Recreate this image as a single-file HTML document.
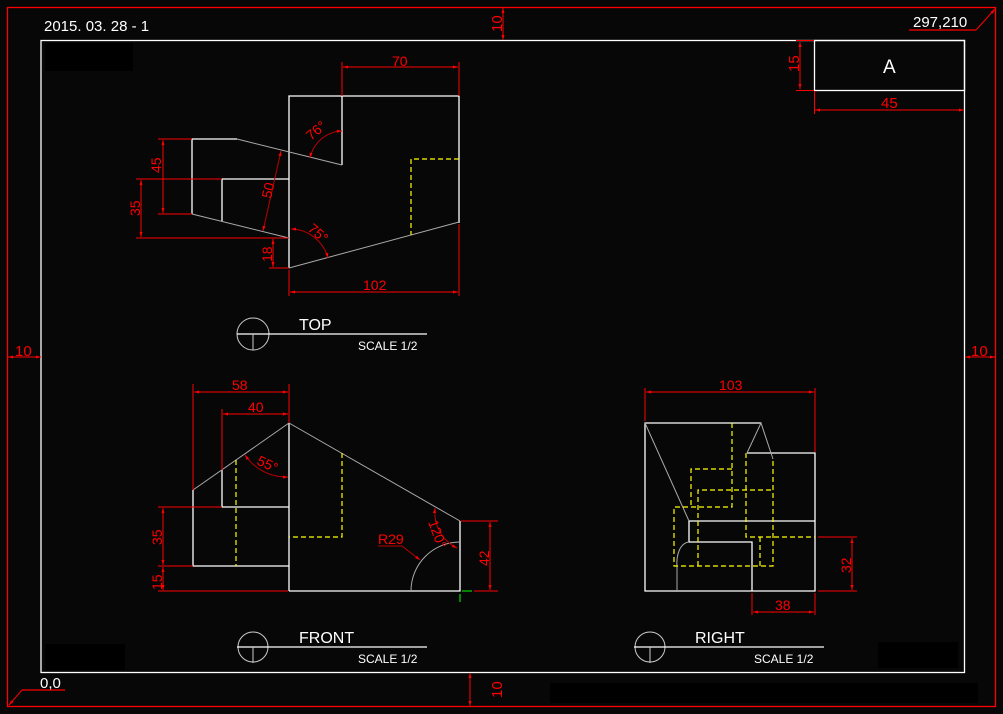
<!DOCTYPE html>
<html><head><meta charset="utf-8"><style>
html,body{margin:0;padding:0;background:#070707;}
svg{display:block;}
text{font-family:"Liberation Sans",sans-serif;}
</style></head><body>
<svg width="1003" height="714" viewBox="0 0 1003 714" xmlns="http://www.w3.org/2000/svg">
<defs>
<marker id="a" viewBox="0 0 10 10" refX="10" refY="5" markerWidth="7" markerHeight="5" orient="auto-start-reverse"><path d="M0,2 L10,5 L0,8 z" fill="#f00"/></marker>
</defs>
<rect width="1003" height="714" fill="#070707"/>
<rect x="45" y="43" width="88" height="28" fill="#000"/>
<rect x="45" y="644" width="80" height="26" fill="#000"/>
<rect x="878" y="642" width="80" height="26" fill="#000"/>
<rect x="550" y="683" width="428" height="20" fill="#000"/>
<rect x="7.5" y="7.5" width="988" height="699" fill="none" stroke="#f00" stroke-width="1.3"/>
<rect x="41" y="40.5" width="923.5" height="632" fill="none" stroke="#fff" stroke-width="1.3"/>
<text x="44" y="31" fill="#fff" font-size="15">2015. 03. 28 - 1</text>
<text x="913" y="27" fill="#fff" font-size="15">297,210</text>
<line x1="909" y1="30" x2="976" y2="30" stroke="#f00" stroke-width="1.3"/>
<line x1="976" y1="30" x2="995" y2="9" stroke="#f00" marker-end="url(#a)"/>
<text x="40" y="688" fill="#fff" font-size="15">0,0</text>
<line x1="22" y1="690" x2="65" y2="690" stroke="#f00" stroke-width="1.3"/>
<line x1="22" y1="690" x2="9" y2="705" stroke="#f00" marker-end="url(#a)"/>
<line x1="503" y1="8" x2="503" y2="40" stroke="#f00" marker-start="url(#a)" marker-end="url(#a)"/>
<text transform="translate(502,32) rotate(-90)" fill="#f00" font-size="15">10</text>
<line x1="470" y1="673" x2="470" y2="706" stroke="#f00" marker-start="url(#a)" marker-end="url(#a)"/>
<text transform="translate(502,698) rotate(-90)" fill="#f00" font-size="15">10</text>
<line x1="8" y1="357" x2="41" y2="357" stroke="#f00" marker-start="url(#a)" marker-end="url(#a)"/>
<text x="15" y="356" fill="#f00" font-size="15">10</text>
<line x1="965" y1="357" x2="995" y2="357" stroke="#f00" marker-start="url(#a)" marker-end="url(#a)"/>
<text x="971" y="356" fill="#f00" font-size="15">10</text>
<rect x="814.5" y="40.5" width="150" height="50" fill="none" stroke="#fff" stroke-width="1.3"/>
<text x="883" y="73" fill="#fff" font-size="19">A</text>
<line x1="796" y1="40.5" x2="814" y2="40.5" stroke="#f00"/>
<line x1="796" y1="90.5" x2="814" y2="90.5" stroke="#f00"/>
<line x1="800" y1="42" x2="800" y2="89" stroke="#f00" marker-start="url(#a)" marker-end="url(#a)"/>
<text transform="translate(799,72) rotate(-90)" fill="#f00" font-size="15">15</text>
<line x1="814.5" y1="91" x2="814.5" y2="114" stroke="#f00"/>
<line x1="815" y1="110" x2="964" y2="110" stroke="#f00" marker-start="url(#a)" marker-end="url(#a)"/>
<text x="881" y="108" fill="#f00" font-size="15">45</text>

<g stroke="#fff" stroke-width="1.3" fill="none">
<polyline points="289,152 289,96 459,96 459,223"/>
<line x1="342" y1="96" x2="342" y2="165"/>
<line x1="289" y1="152" x2="289" y2="268"/>
<polyline points="237,139 192,139 192,214"/>
<polyline points="222,221 222,179 289,179"/>
</g>
<g stroke="#aaa" stroke-width="1" fill="none">
<line x1="237" y1="139" x2="342" y2="165"/>
<line x1="192" y1="214" x2="289" y2="238"/>
<line x1="289" y1="268" x2="459" y2="222"/>
</g>
<g stroke="#ff0" stroke-width="1.2" fill="none" stroke-dasharray="5,3">
<polyline points="459,159 411,159 411,235"/>
</g>
<g stroke="#f00" stroke-width="1" fill="none">
<line x1="342" y1="62" x2="342" y2="96"/>
<line x1="459" y1="62" x2="459" y2="96"/>
<line x1="343" y1="67" x2="458" y2="67" marker-start="url(#a)" marker-end="url(#a)"/>
<line x1="158" y1="139" x2="192" y2="139"/>
<line x1="158" y1="214" x2="192" y2="214"/>
<line x1="163" y1="140" x2="163" y2="213" marker-start="url(#a)" marker-end="url(#a)"/>
<line x1="136" y1="179" x2="222" y2="179"/>
<line x1="136" y1="238" x2="289" y2="238"/>
<line x1="141" y1="180" x2="141" y2="237" marker-start="url(#a)" marker-end="url(#a)"/>
<line x1="269" y1="268" x2="289" y2="268"/>
<line x1="273" y1="239" x2="273" y2="267" marker-start="url(#a)" marker-end="url(#a)"/>
<line x1="281" y1="151" x2="263" y2="231" stroke="#b00" marker-start="url(#a)" marker-end="url(#a)"/>
<line x1="289" y1="270" x2="289" y2="296"/>
<line x1="459" y1="224" x2="459" y2="296"/>
<line x1="290" y1="292" x2="458" y2="292" marker-start="url(#a)" marker-end="url(#a)"/>
<path d="M342,131 A34,34 0 0 0 310,158" stroke="#b00" marker-start="url(#a)" marker-end="url(#a)"/>
<path d="M291,229 A39,39 0 0 1 328,258" stroke="#b00" marker-start="url(#a)" marker-end="url(#a)"/>
</g>
<g fill="#f00" font-size="14">
<text x="392" y="66">70</text>
<text transform="translate(161,173) rotate(-90)">45</text>
<text transform="translate(140,216) rotate(-90)">35</text>
<text transform="translate(272,262) rotate(-90)">18</text>
<text transform="translate(271,199) rotate(-77)">50</text>
<text x="363" y="290">102</text>
<text transform="translate(311,141) rotate(-40)">76°</text>
<text transform="translate(307,230) rotate(40)">75°</text>
</g>
<g stroke="#ccc" stroke-width="1" fill="none">
<circle cx="253" cy="334" r="16"/>
<line x1="237" y1="334" x2="427" y2="334" stroke="#fff" stroke-width="1.3"/>
<line x1="253" y1="334" x2="253" y2="350"/>
</g>
<text x="299" y="330" fill="#fff" font-size="16">TOP</text>
<text x="358" y="350" fill="#fff" font-size="12">SCALE 1/2</text>

<g stroke="#fff" stroke-width="1.3" fill="none">
<polyline points="193,490 193,566 289,566"/>
<polyline points="222,470 222,507 289,507"/>
<line x1="289" y1="423" x2="289" y2="591"/>
<polyline points="289,591 460,591 460,521"/>
</g>
<g stroke="#aaa" stroke-width="1" fill="none">
<line x1="193" y1="490" x2="289" y2="423"/>
<line x1="289" y1="423" x2="460" y2="521"/>
<path d="M411,591 A49,49 0 0 1 460,542"/>
</g>
<g stroke="#ff0" stroke-width="1.2" fill="none" stroke-dasharray="5,3">
<line x1="236" y1="460" x2="236" y2="566"/>
<polyline points="342,453 342,537 289,537"/>
</g>
<g stroke="#0f0" stroke-width="1"><line x1="460" y1="594" x2="460" y2="602"/><line x1="462" y1="591" x2="472" y2="591"/></g>
<g stroke="#f00" stroke-width="1" fill="none">
<line x1="193" y1="384" x2="193" y2="490"/>
<line x1="289" y1="384" x2="289" y2="423"/>
<line x1="194" y1="392" x2="288" y2="392" marker-start="url(#a)" marker-end="url(#a)"/>
<line x1="222" y1="409" x2="222" y2="470"/>
<line x1="223" y1="414" x2="288" y2="414" marker-start="url(#a)" marker-end="url(#a)"/>
<line x1="158" y1="507" x2="222" y2="507"/>
<line x1="158" y1="566" x2="193" y2="566"/>
<line x1="158" y1="591" x2="288" y2="591"/>
<line x1="163" y1="508" x2="163" y2="565" marker-start="url(#a)" marker-end="url(#a)"/>
<line x1="163" y1="567" x2="163" y2="590" marker-start="url(#a)" marker-end="url(#a)"/>
<line x1="461" y1="521" x2="498" y2="521"/>
<line x1="474" y1="591" x2="498" y2="591"/>
<line x1="490" y1="522" x2="490" y2="590" marker-start="url(#a)" marker-end="url(#a)"/>
<path d="M245,455 A50,50 0 0 0 288,477" stroke="#b00" marker-start="url(#a)" marker-end="url(#a)"/>
<path d="M435,508 A40,40 0 0 0 457,548" stroke="#b00" marker-start="url(#a)" marker-end="url(#a)"/>
<polyline points="378,546 402,546 420,560" stroke="#b00" marker-end="url(#a)"/>
</g>
<g fill="#f00" font-size="14">
<text x="232" y="390">58</text>
<text x="248" y="412">40</text>
<text transform="translate(256,464) rotate(25)">55°</text>
<text transform="translate(428,522) rotate(70)">120°</text>
<text x="378" y="544">R29</text>
<text transform="translate(162,545) rotate(-90)">35</text>
<text transform="translate(162,590) rotate(-90)">15</text>
<text transform="translate(489,566) rotate(-90)">42</text>
</g>
<g stroke="#ccc" stroke-width="1" fill="none">
<circle cx="253" cy="647" r="15"/>
<line x1="237" y1="647" x2="427" y2="647" stroke="#fff" stroke-width="1.3"/>
<line x1="253" y1="647" x2="253" y2="663"/>
</g>
<text x="299" y="643" fill="#fff" font-size="16">FRONT</text>
<text x="358" y="663" fill="#fff" font-size="12">SCALE 1/2</text>

<g stroke="#fff" stroke-width="1.3" fill="none">
<polyline points="761,423 645,423 645,591 815,591 815,453 747,453"/>
<polyline points="815,521 689,521 689,542 752,542 752,591"/>
</g>
<g stroke="#aaa" stroke-width="1" fill="none">
<line x1="645" y1="423" x2="689" y2="521"/>
<polyline points="747,453 761,423 773,459"/>
<path d="M689,542 C680,543 676,555 677,567 L677,591"/>
</g>
<g stroke="#ff0" stroke-width="1.2" fill="none" stroke-dasharray="5,3">
<polyline points="732,423 732,507 674,507 674,566 773,566 773,459"/>
<polyline points="732,469 691,469 691,507"/>
<polyline points="698,566 698,490 773,490"/>
<polyline points="746,453 746,537 815,537"/>
<line x1="760" y1="537" x2="760" y2="566"/>
</g>
<g stroke="#f00" stroke-width="1" fill="none">
<line x1="645" y1="388" x2="645" y2="421"/>
<line x1="815" y1="388" x2="815" y2="452"/>
<line x1="646" y1="392" x2="814" y2="392" marker-start="url(#a)" marker-end="url(#a)"/>
<line x1="818" y1="537" x2="857" y2="537"/>
<line x1="818" y1="591" x2="857" y2="591"/>
<line x1="852" y1="538" x2="852" y2="590" marker-start="url(#a)" marker-end="url(#a)"/>
<line x1="752" y1="593" x2="752" y2="615"/>
<line x1="815" y1="593" x2="815" y2="615"/>
<line x1="753" y1="612" x2="814" y2="612" marker-start="url(#a)" marker-end="url(#a)"/>
</g>
<g fill="#f00" font-size="14">
<text x="719" y="390">103</text>
<text transform="translate(851,573) rotate(-90)">32</text>
<text x="775" y="610">38</text>
</g>
<g stroke="#ccc" stroke-width="1" fill="none">
<circle cx="650" cy="647" r="15"/>
<line x1="634" y1="647" x2="824" y2="647" stroke="#fff" stroke-width="1.3"/>
<line x1="650" y1="647" x2="650" y2="663"/>
</g>
<text x="695" y="643" fill="#fff" font-size="16">RIGHT</text>
<text x="754" y="663" fill="#fff" font-size="12">SCALE 1/2</text>
</svg>
</body></html>
